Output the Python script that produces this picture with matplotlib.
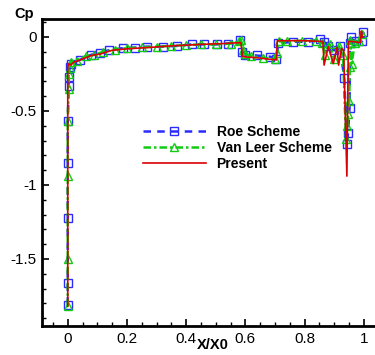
import matplotlib
matplotlib.use("Agg")
import matplotlib.pyplot as plt
from matplotlib.ticker import MultipleLocator

plt.rcParams['font.family'] = ['Liberation Sans', 'DejaVu Sans']

# ---- data ----
x_present = [0.0, 0.0, 0.004, 0.01, 0.02, 0.042, 0.08, 0.11, 0.15, 0.2, 0.28, 0.35,
             0.45, 0.52, 0.585, 0.59, 0.6, 0.64, 0.68, 0.705, 0.708, 0.75, 0.80,
             0.855, 0.862, 0.866, 0.88, 0.897, 0.91, 0.915, 0.925, 0.932, 0.943,
             0.948, 0.96, 0.988, 0.992, 0.995]
cp_present = [-1.82, -0.20, -0.18, -0.19, -0.17, -0.155, -0.125, -0.115, -0.09, -0.08,
              -0.07, -0.06, -0.05, -0.045, -0.038, -0.13, -0.135, -0.14, -0.15, -0.155,
              -0.025, -0.025, -0.025, -0.03, -0.03, -0.19, -0.065, -0.18, -0.07, -0.19,
              -0.077, -0.09, -0.94, -0.03, -0.03, -0.038, 0.04, 0.0]

x_roe = [0.0, 0.0, 0.0, 0.0, 0.0, 0.003, 0.003, 0.006, 0.01, 0.04, 0.08, 0.11, 0.14,
         0.187, 0.227, 0.267, 0.323, 0.37, 0.42, 0.46, 0.503, 0.54, 0.582, 0.59,
         0.6, 0.638, 0.684, 0.705, 0.711, 0.762, 0.813, 0.853, 0.865, 0.88, 0.9,
         0.92, 0.934, 0.943, 0.947, 0.952, 0.954, 0.956, 0.975, 0.994, 0.999]
cp_roe = [-1.81, -1.66, -1.22, -0.85, -0.57, -0.33, -0.27, -0.20, -0.18, -0.155,
          -0.12, -0.11, -0.088, -0.075, -0.072, -0.065, -0.065, -0.06, -0.05, -0.05,
          -0.05, -0.045, -0.02, -0.10, -0.12, -0.125, -0.133, -0.15, -0.043, -0.032,
          -0.032, -0.016, -0.032, -0.06, -0.09, -0.06, -0.28, -0.72, -0.65, -0.48,
          -0.04, 0.0, -0.03, -0.03, 0.036]

x_vl = [0.0, 0.0, 0.0, 0.0, 0.003, 0.003, 0.006, 0.012, 0.03, 0.06, 0.09, 0.12, 0.16,
        0.2, 0.25, 0.3, 0.35, 0.4, 0.45, 0.5, 0.55, 0.578, 0.585, 0.592, 0.6, 0.62,
        0.66, 0.7, 0.706, 0.712, 0.74, 0.79, 0.84, 0.86, 0.868, 0.885, 0.9, 0.915,
        0.93, 0.94, 0.944, 0.948, 0.951, 0.953, 0.955, 0.959, 0.97, 0.985, 0.995]
cp_vl = [-1.82, -1.50, -0.94, -0.57, -0.35, -0.25, -0.21, -0.17, -0.16, -0.13, -0.12,
         -0.1, -0.085, -0.075, -0.07, -0.065, -0.06, -0.055, -0.05, -0.05, -0.045,
         -0.03, -0.02, -0.09, -0.115, -0.13, -0.14, -0.15, -0.11, -0.03, -0.03,
         -0.025, -0.025, -0.04, -0.12, -0.05, -0.15, -0.06, -0.12, -0.69, -0.6,
         -0.52, -0.43, -0.2, -0.02, -0.18, -0.04, -0.03, 0.02]

label_roe = 'Roe Scheme'
label_vl = 'Van Leer Scheme'
label_present = 'Present'

xticks = [0, 0.2, 0.4, 0.6, 0.8, 1.0]
xticklabels = ['0', '0.2', '0.4', '0.6', '0.8', '1']
yticks = [0, -0.5, -1.0, -1.5]
yticklabels = ['0', '-0.5', '-1', '-1.5']

# ---- figure ----
W, H = 375, 355
fig = plt.figure(figsize=(W / 100, H / 100), dpi=100)
ax = fig.add_axes([42 / W, (H - 326) / H, (W - 42) / W, (326 - 19) / H])

blue = '#2b2bff'
green = '#11cc11'
red = '#dd0000'

ax.plot(x_roe, cp_roe, color=blue, lw=1.8, ls=(0, (3, 2.5)), marker='s', ms=5.5,
        mfc='none', mec=blue, mew=1.0, label=label_roe, zorder=2)
ax.plot(x_vl, cp_vl, color=green, lw=1.8, ls=(0, (3, 1.2, 1, 1.2)), marker='^', ms=5.5,
        mfc='none', mec=green, mew=1.0, label=label_vl, zorder=3)
ax.plot(x_present, cp_present, color=red, lw=1.2, ls='-', label=label_present, zorder=4)

ax.set_xlim(-0.087, 1.038)
ax.set_ylim(-1.953, 0.1216)

ax.set_xticks(xticks)
ax.set_xticklabels(xticklabels)
ax.set_yticks(yticks)
ax.set_yticklabels(yticklabels)
ax.xaxis.set_minor_locator(MultipleLocator(0.05))
ax.yaxis.set_minor_locator(MultipleLocator(0.1))
ax.tick_params(which='major', direction='in', length=5, width=1.2, labelsize=11,
               pad=4, top=False, right=False)
ax.tick_params(which='minor', direction='in', length=3, width=1.0, top=False, right=False)

for s in ['left', 'bottom', 'top']:
    ax.spines[s].set_linewidth(2)
ax.spines['right'].set_visible(False)

fig.text(14 / W, 1 - 14 / H, 'Cp', fontsize=10.5, fontweight='bold', ha='left', va='center')
fig.text(213 / W, 1 - 345 / H, 'X/X0', fontsize=10.5, fontweight='bold', ha='center', va='center')

leg = ax.legend(loc='upper left', bbox_to_anchor=(143 / W, 1 - 125 / H),
                bbox_transform=fig.transFigure, frameon=False, numpoints=1,
                handlelength=4.5, handletextpad=0.8, labelspacing=0.15,
                prop={'weight': 'bold', 'size': 10}, borderpad=0, borderaxespad=0)

fig.savefig('out.png', dpi=100)
